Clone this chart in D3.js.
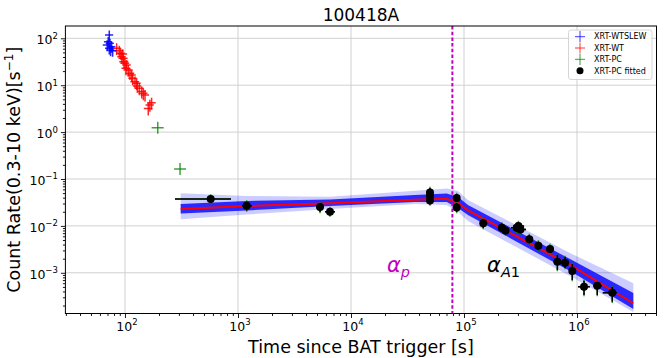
<!DOCTYPE html>
<html>
<head>
<meta charset="utf-8">
<script src="https://cdn.jsdelivr.net/npm/d3@7"></script>
<style>
  body { margin: 0; background: #fff; }
  text { font-family: "DejaVu Sans", sans-serif; fill: #000; }
</style>
</head>
<body>
<div id="chart"></div>
<script>
let width  = 664,
    height = 358;
let margin = {top: 26, right: 7.5, bottom: 44.5, left: 65.4};

// XRT-WTSLEW (blue)
let slewT    = [72.6, 71.1, 73.6, 69.6, 76.2, 72.6, 74.6, 77.8];
let slewV    = [117.6, 84.7, 78.2, 72, 66.3, 61.2, 56.4, 54.5];
let slewTErr = [6, 6, 6, 6, 6, 6, 6, 6];
let slewVErr = [30, 22, 20, 19, 17, 16, 15, 14];

// XRT-WT (red)
let wtT    = [84.4, 89.0, 91.6, 95.5, 93.5, 96.6, 98, 100, 103.5, 102, 107, 110.7,
              114.6, 117, 122.6, 126.9, 128.5, 133.9, 140.6, 145.3, 150.4, 172, 166, 160.7];
let wtV    = [61.2, 54.5, 47.9, 46.2, 40.5, 37.5, 31.7, 29.3, 27, 22.9, 21.1, 17.9,
              16.5, 14.0, 11.9, 11.0, 9.6, 8.6, 7.3, 6.7, 6.2, 4.2, 3.8, 3.2];
let wtTErr = [8, 8, 8, 9, 8, 9, 9, 9, 9, 9, 10, 10, 10, 10, 11, 11, 11, 12, 12, 13, 13, 15, 14, 14];
let wtVErr = [17, 15, 13, 12.5, 11, 10, 9, 8, 7.5, 6.5, 6, 5, 4.6, 4, 3.4, 3.1, 2.7, 2.5, 2.1, 1.9, 1.7, 1.2, 1.1, 0.95];

// XRT-PC (green, not fitted)
let pcT   = [195, 307];
let pcV   = [1.24, 0.163];
let pcTLo = [172, 272],  pcTHi = [220, 347];
let pcVLo = [0.925, 0.122], pcVHi = [1.67, 0.219];

// XRT-PC fitted (black)
let fitT   = [573, 1194, 5320, 6520, 50000, 50000, 50000, 86100, 86100, 148000, 216000, 233000,
              293000, 303000, 316000, 378000, 455000, 577000, 670000, 784000, 908000, 1.153e6, 1.51e6, 2.05e6];
let fitTLo = [277, 1084, 4900, 5890, 47100, 47100, 47100, 81600, 81600, 139000, 200000, 217000,
              261000, 272000, 283000, 354000, 425000, 537000, 620000, 721000, 849000, 1.02e6, 1.39e6, 1.69e6];
let fitTHi = [867, 1330, 5770, 7210, 53200, 53200, 53200, 91200, 91200, 160000, 231000, 250000,
              326000, 340000, 354000, 408000, 486000, 620000, 721000, 849000, 980000, 1.30e6, 1.66e6, 2.26e6];
let fitV   = [0.0375, 0.0270, 0.0253, 0.0201, 0.0515, 0.0434, 0.0348, 0.0394, 0.0247, 0.01135, 0.00917, 0.00798,
              0.00917, 0.00996, 0.00838, 0.00518, 0.00379, 0.00321, 0.00173, 0.00164, 0.00109, 5.06e-4, 5.31e-4, 3.77e-4];
let fitVLo = [0.0316, 0.0213, 0.0198, 0.0167, 0.0413, 0.0357, 0.0286, 0.0323, 0.0198, 0.0090, 0.00741, 0.00656,
              0.00741, 0.00818, 0.00689, 0.00422, 0.00306, 0.00264, 0.00115, 0.00126, 7.0e-4, 3.37e-4, 3.37e-4, 2.42e-4];
let fitVHi = [0.0445, 0.0331, 0.0308, 0.0241, 0.0643, 0.0528, 0.0424, 0.0479, 0.0308, 0.0140, 0.01125, 0.0097,
              0.01125, 0.0121, 0.0102, 0.0064, 0.00465, 0.00392, 0.0024, 0.00217, 0.00154, 6.79e-4, 6.15e-4, 4.98e-4];

// best fit curve and the spread of the posterior samples
let modelT       = [311, 1194, 6516, 36800, 70300, 88500, 108400, 867000, 3.15e6];
let modelV       = [0.0229, 0.0266, 0.0305, 0.0362, 0.0380, 0.0308, 0.0213, 0.00147, 2.24e-4];
let bandOuterHi  = [0.0495, 0.0434, 0.0420, 0.0563, 0.0627, 0.0555, 0.0357, 0.00264, 5.97e-4];
let bandOuterLo  = [0.0138, 0.0175, 0.0229, 0.0293, 0.0279, 0.0198, 0.0127, 8.55e-4, 1.46e-4];
let bandInnerHi  = [0.0293, 0.0340, 0.0366, 0.0456, 0.0491, 0.0413, 0.0279, 0.00197, 3.71e-4];
let bandInnerLo  = [0.0184, 0.0213, 0.0266, 0.0323, 0.0323, 0.0241, 0.0171, 0.00109, 1.69e-4];

let breakT = 78900;
let xTickExps = [2, 3, 4, 5, 6];
let yTickExps = [-3, -2, -1, 0, 1, 2];

let x = d3.scaleLog().domain([29.7, 5.05e6]).range([margin.left, width - margin.right]);
let y = d3.scaleLog().domain([1.355e-4, 183]).range([height - margin.bottom, margin.top]);

let svg = d3.select("#chart")
  .append("svg")
    .attr("width", width)
    .attr("height", height);

svg.append("defs").append("clipPath")
    .attr("id", "plot")
  .append("rect")
    .attr("x", margin.left)
    .attr("y", margin.top)
    .attr("width", width - margin.left - margin.right)
    .attr("height", height - margin.top - margin.bottom);

// grid
let grid = svg.append("g");
xTickExps.forEach(function(e) {
  grid.append("line")
    .attr("x1", x(Math.pow(10, e))).attr("x2", x(Math.pow(10, e)))
    .attr("y1", margin.top).attr("y2", height - margin.bottom)
    .attr("stroke", "#d0d0d0").attr("stroke-width", 1);
});
yTickExps.forEach(function(e) {
  grid.append("line")
    .attr("y1", y(Math.pow(10, e))).attr("y2", y(Math.pow(10, e)))
    .attr("x1", margin.left).attr("x2", width - margin.right)
    .attr("stroke", "#d0d0d0").attr("stroke-width", 1);
});

let plot = svg.append("g").attr("clip-path", "url(#plot)");

// fit band
let bandOuter = modelT.map(function(t, i) { return {t: t, lo: bandOuterLo[i], hi: bandOuterHi[i]}; });
let bandInner = modelT.map(function(t, i) { return {t: t, lo: bandInnerLo[i], hi: bandInnerHi[i]}; });
let area = d3.area()
  .x(function(d) { return x(d.t); })
  .y0(function(d) { return y(d.lo); })
  .y1(function(d) { return y(d.hi); });

plot.append("path").attr("d", area(bandOuter)).attr("fill", "#0000ff").attr("fill-opacity", 0.2);
plot.append("path").attr("d", area(bandInner)).attr("fill", "#0000ff").attr("fill-opacity", 0.8);

let line = d3.line()
  .x(function(d) { return x(d[0]); })
  .y(function(d) { return y(d[1]); });

plot.append("path")
  .attr("d", line(modelT.map(function(t, i) { return [t, modelV[i]]; })))
  .attr("fill", "none")
  .attr("stroke", "#ff0000")
  .attr("stroke-width", 2);

// break time
plot.append("line")
  .attr("x1", x(breakT)).attr("x2", x(breakT))
  .attr("y1", margin.top).attr("y2", height - margin.bottom)
  .attr("stroke", "#bf00bf")
  .attr("stroke-width", 2)
  .attr("stroke-dasharray", "3.5,2.2");

function errorbars(g, t, v, tLo, tHi, vLo, vHi, color, width, opacity) {
  let sel = g.append("g").attr("stroke", color).attr("stroke-width", width).attr("stroke-opacity", opacity);
  t.forEach(function(d, i) {
    sel.append("line")
      .attr("x1", x(tLo[i])).attr("x2", x(tHi[i]))
      .attr("y1", y(v[i])).attr("y2", y(v[i]));
    sel.append("line")
      .attr("x1", x(d)).attr("x2", x(d))
      .attr("y1", y(vLo[i])).attr("y2", y(vHi[i]));
  });
}

function symmetric(t, v, tErr, vErr) {
  return [t, v,
          t.map(function(d, i) { return d - tErr[i]; }),
          t.map(function(d, i) { return d + tErr[i]; }),
          v.map(function(d, i) { return d - vErr[i]; }),
          v.map(function(d, i) { return d + vErr[i]; })];
}

// green errorbars under the fitted points, slightly longer so the tips show
let greenLo = fitVLo.map(function(d) { return d * 0.94; }),
    greenHi = fitVHi.map(function(d) { return d * 1.06; });
errorbars.apply(null, [plot].concat([fitT, fitV, fitTLo, fitTHi, greenLo, greenHi], ["#008000", 1.5, 0.8]));
errorbars.apply(null, [plot].concat([pcT, pcV, pcTLo, pcTHi, pcVLo, pcVHi], ["#008000", 1.5, 0.75]));
errorbars.apply(null, [plot].concat([fitT, fitV, fitTLo, fitTHi, fitVLo, fitVHi], ["#000", 1.5, 1]));

plot.append("g").selectAll("circle")
  .data(fitT)
  .enter()
  .append("circle")
    .attr("cx", function(d) { return x(d); })
    .attr("cy", function(d, i) { return y(fitV[i]); })
    .attr("r", 4)
    .attr("fill", "#000");

errorbars.apply(null, [plot].concat(symmetric(wtT, wtV, wtTErr, wtVErr), ["#ff0000", 1.5, 0.85]));
errorbars.apply(null, [plot].concat(symmetric(slewT, slewV, slewTErr, slewVErr), ["#0000ff", 1.5, 0.85]));

// annotations
let ap = svg.append("text")
  .attr("x", x(2.08e4)).attr("y", y(1e-3) - 1)
  .attr("font-size", 21)
  .style("fill", "#bf00bf");
ap.append("tspan").attr("font-style", "italic").text("α");
ap.append("tspan").attr("font-style", "italic").attr("font-size", 14.5).attr("dy", 5).text("p");

let aa = svg.append("text")
  .attr("x", x(1.6e5)).attr("y", y(1e-3) - 1)
  .attr("font-size", 21);
aa.append("tspan").attr("font-style", "italic").text("α");
aa.append("tspan").attr("font-style", "italic").attr("font-size", 14.5).attr("dy", 5).text("A");
aa.append("tspan").attr("font-size", 14.5).text("1");

// axes
let minorX = [], minorY = [];
d3.range(1, 7).forEach(function(e) {
  d3.range(2, 10).forEach(function(m) {
    let v = m * Math.pow(10, e);
    if (v > x.domain()[0] && v < x.domain()[1]) minorX.push(v);
  });
});
d3.range(-4, 3).forEach(function(e) {
  d3.range(2, 10).forEach(function(m) {
    let v = m * Math.pow(10, e);
    if (v > y.domain()[0] && v < y.domain()[1]) minorY.push(v);
  });
});

let xAxis = svg.append("g").attr("transform", "translate(0," + (height - margin.bottom) + ")");
xAxis.call(d3.axisBottom(x).tickValues(minorX).tickSize(2.5).tickFormat(""));
xAxis.append("g").call(d3.axisBottom(x).tickValues(xTickExps.map(function(e) { return Math.pow(10, e); })).tickSize(4.5).tickFormat(""));

let yAxis = svg.append("g").attr("transform", "translate(" + margin.left + ",0)");
yAxis.call(d3.axisLeft(y).tickValues(minorY).tickSize(2.5).tickFormat(""));
yAxis.append("g").call(d3.axisLeft(y).tickValues(yTickExps.map(function(e) { return Math.pow(10, e); })).tickSize(4.5).tickFormat(""));

svg.selectAll(".domain").remove();
svg.selectAll(".tick line").attr("stroke", "#000").attr("stroke-width", 0.9);

svg.append("rect")
  .attr("x", margin.left).attr("y", margin.top)
  .attr("width", width - margin.left - margin.right)
  .attr("height", height - margin.top - margin.bottom)
  .attr("fill", "none")
  .attr("stroke", "#000")
  .attr("stroke-width", 1);

function expLabel(sel, e) {
  sel.append("tspan").text("10");
  sel.append("tspan")
    .attr("font-size", 8.5)
    .attr("dy", -5.5)
    .text(e < 0 ? "\u2212" + (-e) : e);
}

xTickExps.forEach(function(e) {
  let t = svg.append("text")
    .attr("x", x(Math.pow(10, e)) + 2)
    .attr("y", height - margin.bottom + 17)
    .attr("font-size", 12.5)
    .attr("text-anchor", "middle");
  expLabel(t, e);
});

yTickExps.forEach(function(e) {
  let t = svg.append("text")
    .attr("x", margin.left - 7.5)
    .attr("y", y(Math.pow(10, e)) + 6)
    .attr("font-size", 12.5)
    .attr("text-anchor", "end");
  expLabel(t, e);
});

svg.append("text")
  .attr("x", (margin.left + width - margin.right) / 2)
  .attr("y", 21)
  .attr("font-size", 17)
  .attr("text-anchor", "middle")
  .text("100418A");

svg.append("text")
  .attr("x", (margin.left + width - margin.right) / 2)
  .attr("y", 353)
  .attr("font-size", 17.5)
  .attr("text-anchor", "middle")
  .text("Time since BAT trigger [s]");

let yl = svg.append("text")
  .attr("transform", "translate(20," + ((margin.top + height - margin.bottom) / 2) + ") rotate(-90)")
  .attr("font-size", 17.5)
  .attr("text-anchor", "middle");
yl.append("tspan").text("Count Rate(0.3-10 keV)[s");
yl.append("tspan").attr("font-size", 12).attr("dy", -7).text("\u22121");
yl.append("tspan").attr("dy", 7).text("]");

// legend
let legendItems = [
  {name: "XRT-WTSLEW", color: "#0000ff", kind: "cross"},
  {name: "XRT-WT", color: "#ff0000", kind: "cross"},
  {name: "XRT-PC", color: "#008000", kind: "cross"},
  {name: "XRT-PC fitted", color: "#000", kind: "dot"}
];

let legend = svg.append("g");
legend.append("rect")
  .attr("x", 568.5).attr("y", 30)
  .attr("width", 83.5).attr("height", 49.5)
  .attr("rx", 2.5)
  .attr("fill", "#fff").attr("fill-opacity", 0.8)
  .attr("stroke", "#cccccc").attr("stroke-width", 0.8);

let item = legend.selectAll(".item")
  .data(legendItems)
  .enter()
  .append("g")
    .attr("transform", function(d, i) { return "translate(580," + (36.6 + i * 11.4) + ")"; });

item.filter(function(d) { return d.kind === "cross"; })
  .append("g")
  .each(function(d) {
    let g = d3.select(this).attr("stroke", d.color).attr("stroke-width", 1.3).attr("stroke-opacity", 0.6);
    g.append("line").attr("x1", -5).attr("x2", 5).attr("y1", 0).attr("y2", 0);
    g.append("line").attr("x1", 0).attr("x2", 0).attr("y1", -5.5).attr("y2", 5.5);
  });

item.filter(function(d) { return d.kind === "dot"; })
  .append("circle").attr("r", 3.5).attr("fill", "#000");

item.append("text")
  .attr("x", 14)
  .attr("dy", "0.35em")
  .attr("font-size", 8)
  .text(function(d) { return d.name; });
</script>
</body>
</html>
